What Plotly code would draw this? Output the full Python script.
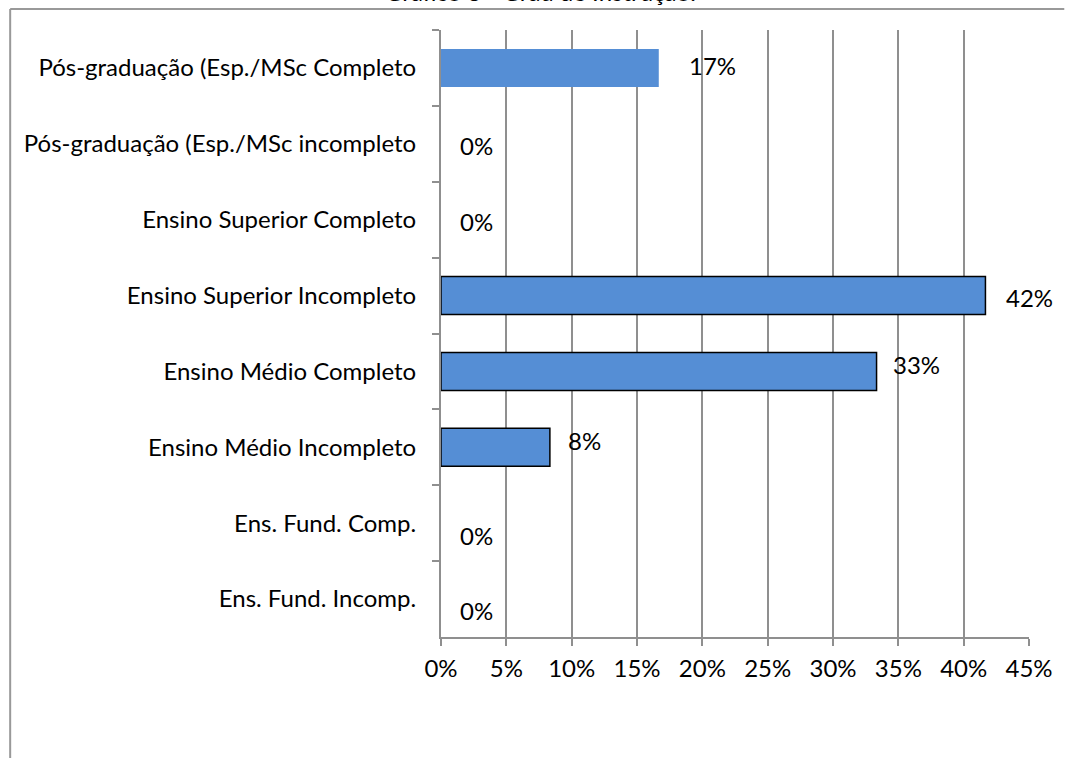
import plotly.graph_objects as go

# Education level categories, top to bottom
categories = [
    "Pós-graduação (Esp./MSc Completo",
    "Pós-graduação (Esp./MSc incompleto",
    "Ensino Superior Completo",
    "Ensino Superior Incompleto",
    "Ensino Médio Completo",
    "Ensino Médio Incompleto",
    "Ens. Fund. Comp.",
    "Ens. Fund. Incomp.",
]
# Share of respondents (fraction)
shares = [2 / 12, 0.0, 0.0, 5 / 12, 4 / 12, 1 / 12, 0.0, 0.0]
labels = ["17%", "0%", "0%", "42%", "33%", "8%", "0%", "0%"]

x_ticks = [0, 0.05, 0.10, 0.15, 0.20, 0.25, 0.30, 0.35, 0.40, 0.45]
x_tick_text = ["0%", "5%", "10%", "15%", "20%", "25%", "30%", "35%", "40%", "45%"]

FONT = "Lato, Calibri, sans-serif"
FS = 24
BAR = "#558ed5"
GRID = "#8f8f8f"

# per-label nudges (pixels) for the value labels
label_dx = [28, 17, 17, 19, 14, 16, 17, 17]
label_dy = [2, -2, -2, -2, 7, 7, -12, -11]

# outline: none on the first bar and on empty bars, black elsewhere
edge_widths = [0, 0, 0, 1.5, 1.5, 1.5, 0, 0]

fig = go.Figure()
fig.add_trace(
    go.Bar(
        x=shares,
        y=categories,
        orientation="h",
        marker=dict(color=BAR, line=dict(color="black", width=edge_widths)),
        hoverinfo="skip",
    )
)

# value labels to the right of each bar
for cat, val, txt, dx, dy in zip(categories, shares, labels, label_dx, label_dy):
    fig.add_annotation(
        x=val, y=cat, text=txt, showarrow=False,
        xanchor="left", yanchor="middle", xshift=dx, yshift=dy,
        font=dict(family=FONT, size=FS, color="black"),
    )

# chart title (sits at the very top edge)
fig.add_annotation(
    xref="paper", yref="paper", x=0.17, y=1.0, yshift=22,
    text="Gráfico 8 - Grau de Instrução.", showarrow=False,
    xanchor="center", yanchor="bottom",
    font=dict(family=FONT, size=FS, color="black"),
)

# outer chart frame
fig.add_shape(type="line", xref="paper", yref="paper",
              x0=-0.7327, x1=1.06, y0=1.0346, y1=1.0346,
              line=dict(color="#999999", width=2))
fig.add_shape(type="line", xref="paper", yref="paper",
              x0=-0.7327, x1=-0.7327, y0=1.0346, y1=-0.21,
              line=dict(color="#999999", width=2))

fig.update_layout(
    width=1065,
    height=758,
    margin=dict(l=441, r=33, t=30, b=121),
    paper_bgcolor="white",
    plot_bgcolor="white",
    showlegend=False,
    bargap=0.5,
    font=dict(family=FONT, size=FS, color="black"),
    xaxis=dict(
        range=[0, 0.45],
        tickvals=x_ticks,
        ticktext=x_tick_text,
        showgrid=True,
        gridcolor=GRID,
        gridwidth=2,
        zeroline=False,
        showline=True,
        linecolor=GRID,
        linewidth=2,
        ticks="outside",
        ticklen=7,
        tickcolor=GRID,
        tickwidth=2,
        ticklabelstandoff=2,
        tickfont=dict(family=FONT, size=FS, color="black"),
    ),
    yaxis=dict(
        categoryorder="array",
        categoryarray=categories,
        autorange="reversed",
        showline=True,
        linecolor=GRID,
        linewidth=2,
        ticks="outside",
        tickson="boundaries",
        ticklen=7,
        tickcolor=GRID,
        tickwidth=2,
        ticklabelstandoff=18,
        showgrid=False,
        tickfont=dict(family=FONT, size=FS, color="black"),
    ),
)

fig.write_html("out.html")
